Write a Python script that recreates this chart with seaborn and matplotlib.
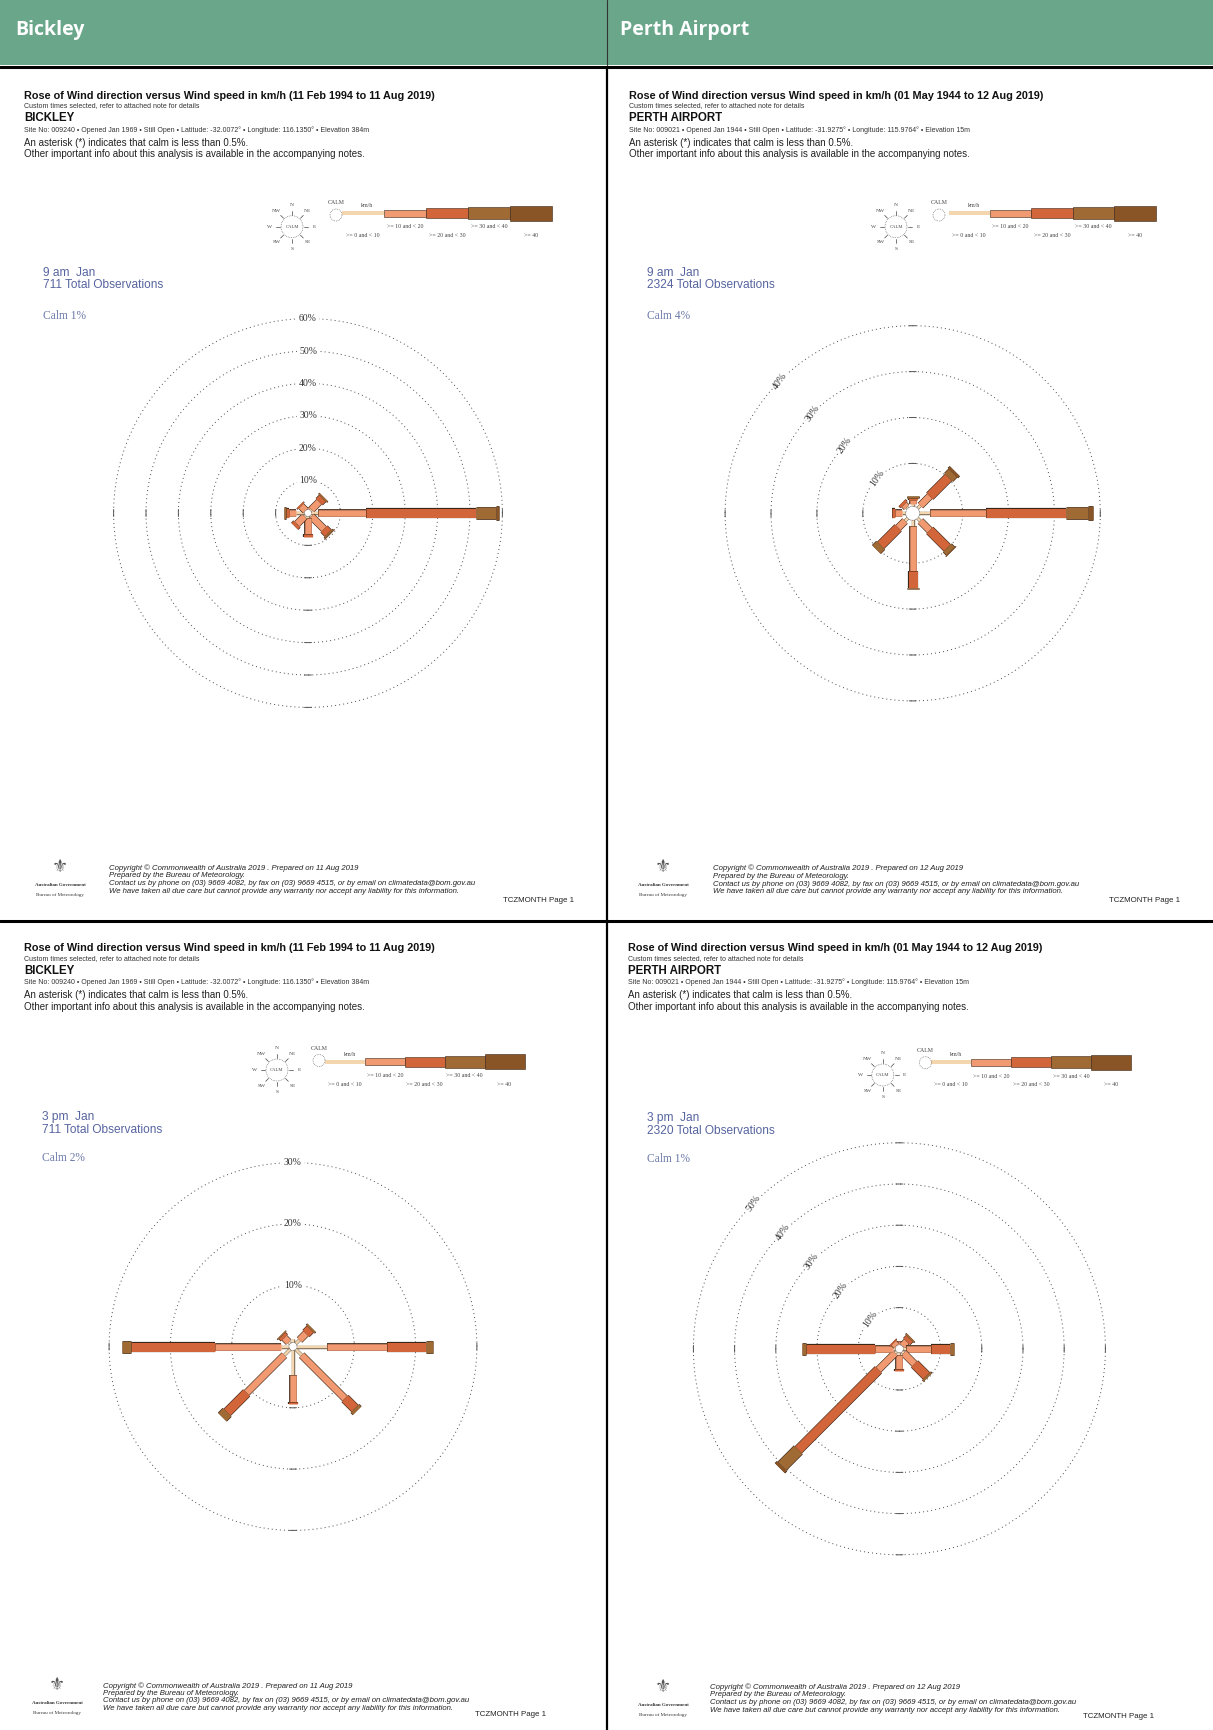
import numpy as np
import matplotlib
matplotlib.use("Agg")
import matplotlib.pyplot as plt
import seaborn as sns
from matplotlib.patches import Rectangle, Circle

sns.set_theme(style="white")
plt.rcParams['font.family'] = ['Liberation Sans', 'DejaVu Sans']

# ------------------------------------------------------------------ data
stations = ["Bickley", "Perth Airport"]
station_caps = ["BICKLEY", "PERTH AIRPORT"]
periods = ["(11 Feb 1994 to 11 Aug 2019)", "(01 May 1944 to 12 Aug 2019)"]
site_lines = [
    "Site No: 009240 \u2022 Opened Jan 1969 \u2022 Still Open \u2022 Latitude: -32.0072\u00b0 \u2022 Longitude: 116.1350\u00b0 \u2022 Elevation 384m",
    "Site No: 009021 \u2022 Opened Jan 1944 \u2022 Still Open \u2022 Latitude: -31.9275\u00b0 \u2022 Longitude: 115.9764\u00b0 \u2022 Elevation 15m",
]
prepared_dates = ["11 Aug 2019", "12 Aug 2019"]
directions = ["N", "NE", "E", "SE", "S", "SW", "W", "NW"]
speed_bins = [">= 0 and < 10", ">= 10 and < 20", ">= 20 and < 30", ">= 30 and < 40", ">= 40"]
times = ["9 am  Jan", "9 am  Jan", "3 pm  Jan", "3 pm  Jan"]
total_obs = [711, 2324, 711, 2320]
calm_pct = [1, 4, 2, 1]
ring_ticks = [[10, 20, 30, 40, 50, 60], [10, 20, 30, 40], [10, 20, 30], [10, 20, 30, 40, 50]]

# % of observations per direction (rows N..NW) and speed bin (columns)
bickley_9am = [
    [1.0, 1.0, 0.0, 0.0, 0.0],
    [1.5, 3.4, 1.5, 0.5, 0.0],
    [3.1, 14.9, 33.7, 6.2, 1.0],
    [1.5, 5.5, 1.8, 0.5, 0.2],
    [1.5, 5.0, 0.9, 0.0, 0.0],
    [1.5, 3.3, 1.0, 0.0, 0.0],
    [3.6, 2.3, 1.0, 0.6, 0.0],
    [1.0, 2.0, 0.5, 0.0, 0.0],
]
perth_9am = [
    [1.2, 0.8, 0.4, 0.4, 0.0],
    [1.5, 2.9, 5.8, 1.3, 0.6],
    [2.8, 12.3, 17.4, 4.9, 1.1],
    [1.5, 2.9, 5.4, 1.0, 0.2],
    [2.0, 9.8, 3.6, 0.3, 0.0],
    [1.5, 2.1, 5.4, 1.3, 0.0],
    [1.5, 1.5, 0.7, 0.0, 0.0],
    [1.0, 0.8, 0.6, 0.0, 0.0],
]
bickley_3pm = [
    [1.2, 0.0, 0.0, 0.0, 0.0],
    [1.5, 1.5, 1.0, 0.3, 0.0],
    [5.5, 9.8, 6.4, 1.1, 0.0],
    [2.0, 10.0, 2.3, 0.5, 0.0],
    [4.7, 4.4, 0.3, 0.0, 0.0],
    [2.0, 8.7, 4.5, 1.1, 0.0],
    [2.0, 10.8, 13.7, 1.4, 0.0],
    [1.0, 1.0, 0.5, 0.2, 0.0],
]
perth_3pm = [
    [1.0, 0.8, 0.0, 0.0, 0.0],
    [1.0, 1.5, 1.0, 0.4, 0.0],
    [1.5, 6.2, 4.7, 0.9, 0.0],
    [1.5, 3.7, 4.1, 0.5, 0.0],
    [1.5, 3.5, 0.3, 0.2, 0.0],
    [1.5, 5.7, 27.5, 5.6, 0.7],
    [1.5, 4.4, 16.8, 1.0, 0.0],
    [1.0, 1.0, 0.3, 0.0, 0.0],
]
rose_data = [bickley_9am, perth_9am, bickley_3pm, perth_3pm]
panel_station = [0, 1, 0, 1]

# ------------------------------------------------------------------ style / layout
W, H = 1213, 1730
bin_colors = ['#f3d6ae', '#f19a72', '#d2663a', '#a06a35', '#8a5526']
edge_dark = '#3a2516'
bar_px = [2.5, 6.5, 9.0, 11.5, 13.5]
leg_px = [4, 7, 10, 12, 15]
blue = '#56649f'
green = '#69a68a'
SANS = ['Liberation Sans', 'DejaVu Sans']
SERIF = ['Liberation Serif', 'DejaVu Serif']

layout = [
    dict(tx=24, ty=95.7, lx=43, ly=272.7, cy_calm=316, rose=(308, 513), k=3.24, off=0.0, calm_r=3.5, lab='N',
         comp=(292, 226.7), calm_leg=(336, 215), bars=(342, 552, 213),
         fx=109, fy=[868.3, 875.9, 883.5, 891.1], page=(574, 900.5), logo=(60, 870)),
    dict(tx=629, ty=95.7, lx=646.6, ly=272.7, cy_calm=316, rose=(912.7, 513.3), k=4.59, off=0.87, calm_r=7, lab='NW',
         comp=(896, 226.7), calm_leg=(939, 215), bars=(948.6, 1155.7, 213),
         fx=713, fy=[868.6, 876.3, 884.0, 891.8], page=(1180, 900.5), logo=(663, 870)),
    dict(tx=24, ty=948.3, lx=42.5, ly=1117.3, cy_calm=1158, rose=(293, 1346.5), k=6.13, off=0.0, calm_r=4, lab='N',
         comp=(277, 1070), calm_leg=(319, 1060.5), bars=(325, 524.5, 1061.7),
         fx=102.6, fy=[1686, 1693.5, 1701, 1708.5], page=(546, 1715), logo=(57, 1688)),
    dict(tx=628.5, ty=948.3, lx=646.6, ly=1118.3, cy_calm=1159, rose=(899.4, 1348.8), k=4.12, off=0.0, calm_r=4, lab='NW',
         comp=(882.8, 1075), calm_leg=(925.4, 1062.7), bars=(931.2, 1131.3, 1062.3),
         fx=709.7, fy=[1687.6, 1695, 1702.5, 1710], page=(1154, 1716.5), logo=(663, 1690)),
]

fig = plt.figure(figsize=(W / 100, H / 100), dpi=100, facecolor='white')
page = fig.add_axes([0, 0, 1, 1])
page.set_xlim(0, W)
page.set_ylim(H, 0)
page.axis('off')

# header
page.add_patch(Rectangle((0, 0), W, 65, fc=green, ec='none'))
page.plot([0, W], [66.5, 66.5], color='black', lw=2.2)
page.text(15, 30, stations[0], color='white', fontsize=14, fontweight='bold', family=['Open Sans', 'DejaVu Sans'], va='center')
page.text(620, 30, stations[1], color='white', fontsize=14, fontweight='bold', family=['Open Sans', 'DejaVu Sans'], va='center')
page.plot([607, 607], [0, 65], color='#333333', lw=0.8)
page.plot([607, 607], [67, H], color='black', lw=1.6)
page.plot([0, W], [921, 921], color='black', lw=2.2)


def draw_legend(L):
    cx, cy = L['comp']
    th = np.linspace(0, 2 * np.pi, 200)
    page.plot(cx + 11 * np.cos(th), cy + 11 * np.sin(th), color='#555', lw=0.5, ls=(0, (1, 1.5)))
    page.text(cx, cy, "CALM", fontsize=3.4, family=SERIF, ha='center', va='center', color='#444')
    for i, d in enumerate(directions):
        a = np.radians(90 - 45 * i)
        page.plot([cx + 12 * np.cos(a), cx + 16 * np.cos(a)], [cy - 12 * np.sin(a), cy - 16 * np.sin(a)],
                  color='#444', lw=0.5)
        page.text(cx + 22 * np.cos(a), cy - 22 * np.sin(a), d, fontsize=3.9, family=SERIF, ha='center',
                  va='center', color='#444')
    clx, cly = L['calm_leg']
    page.plot(clx + 6 * np.cos(th), cly + 6 * np.sin(th), color='#555', lw=0.5, ls=(0, (1, 1.5)))
    page.text(clx, cly - 12, "CALM", fontsize=4.2, family=SERIF, ha='center', va='center', color='#444')
    bx0, bx1, by = L['bars']
    edges = np.linspace(bx0, bx1, len(speed_bins) + 1)
    page.text(edges[0] + 25, by - 7.5, "km/h", fontsize=4.2, family=SERIF, ha='center', va='center', color='#444')
    for j, lab in enumerate(speed_bins):
        h = leg_px[j]
        page.add_patch(Rectangle((edges[j], by - h / 2), edges[j + 1] - edges[j], h, fc=bin_colors[j],
                                 ec=(edge_dark if j > 0 else 'none'), lw=0.4))
        yy = by + (13.7 if j % 2 == 1 else 22.7)
        page.text((edges[j] + edges[j + 1]) / 2, yy, lab, fontsize=4.2, family=SERIF, ha='center',
                  va='center', color='#444')


def draw_rose(ax, data, rings, k, off, calm_r, lab):
    ring_color = '#4a4a4a'
    th = np.linspace(0, 2 * np.pi, 721)
    for p in rings:
        r = off + p
        sns.lineplot(x=r * np.cos(th), y=r * np.sin(th), sort=False, estimator=None, ax=ax,
                     color=ring_color, linewidth=0.7, linestyle=(0, (1, 3.2)))
        marks = [0, 180, 270] if lab == 'N' else [0, 90, 180, 270]
        for mdeg in marks:
            dth = 3.5 / (r * k)
            tt = np.linspace(np.radians(mdeg) - dth, np.radians(mdeg) + dth, 10)
            ax.plot(r * np.cos(tt), r * np.sin(tt), color='#555', lw=0.7)
        if lab == 'N':
            ax.text(0, r, f"{p}%", fontsize=7.0, family=SERIF, ha='center', va='center', color='#333',
                    bbox=dict(fc='white', ec='none', pad=1.2), zorder=5)
        else:
            a = np.radians(135)
            ax.text(r * np.cos(a), r * np.sin(a), f"{p}%", fontsize=7.0, family=SERIF, ha='center',
                    va='center', color='#333', rotation=55,
                    bbox=dict(fc='white', ec='none', pad=0.8), zorder=5)
    for i, d in enumerate(directions):
        a = np.radians(90 - 45 * i)
        r0 = off
        for j, v in enumerate(data[i]):
            if v <= 0:
                continue
            r1 = r0 + v
            xs = [r0 * np.cos(a), r1 * np.cos(a)]
            ys = [r0 * np.sin(a), r1 * np.sin(a)]
            if j > 0:
                ax.plot(xs, ys, color=edge_dark, lw=(bar_px[j] + 1.2) * 0.72, solid_capstyle='butt', zorder=3)
            else:
                ax.plot(xs, ys, color='#6b5a4a', lw=(bar_px[j] + 0.9) * 0.72, solid_capstyle='butt', zorder=3)
            ax.plot(xs, ys, color=bin_colors[j], lw=bar_px[j] * 0.72, solid_capstyle='butt', zorder=3)
            r0 = r1
    ax.add_patch(Circle((0, 0), calm_r / k, fc='white', ec='#444', lw=0.5, ls=(0, (1, 1)), zorder=4))


for pi, L in enumerate(layout):
    s = panel_station[pi]
    x, y = L['tx'], L['ty']
    page.text(x, y, "Rose of Wind direction versus Wind speed in km/h " + periods[s], fontsize=7.8,
              fontweight='bold', family=SANS, va='center', color='#111')
    page.text(x, y + 10.3, "Custom times selected, refer to attached note for details", fontsize=5.0,
              family=SANS, va='center', color='#333')
    page.text(x, y + 22.6, station_caps[s], fontsize=8.3, fontweight='bold', family=SANS, va='center',
              color='#111')
    page.text(x, y + 34.3, site_lines[s], fontsize=5.0, family=SANS, va='center', color='#333')
    page.text(x, y + 47.0, "An asterisk (*) indicates that calm is less than 0.5%.", fontsize=7.0,
              family=SANS, va='center', color='#222')
    page.text(x, y + 58.3, "Other important info about this analysis is available in the accompanying notes.",
              fontsize=7.0, family=SANS, va='center', color='#222')
    draw_legend(L)
    page.text(L['lx'], L['ly'], times[pi], fontsize=8.6, family=SANS, va='center', color=blue)
    page.text(L['lx'], L['ly'] + 12.3, f"{total_obs[pi]} Total Observations", fontsize=8.6, family=SANS,
              va='center', color=blue)
    page.text(L['lx'], L['cy_calm'], f"Calm {calm_pct[pi]}%", fontsize=8.3, family=SERIF, va='center',
              color='#6a78a8')

    # footer
    foot = ["Copyright \u00a9 Commonwealth of Australia 2019 . Prepared on " + prepared_dates[s],
            "Prepared by the Bureau of Meteorology.",
            "Contact us by phone on (03) 9669 4082, by fax on (03) 9669 4515, or by email on climatedata@bom.gov.au",
            "We have taken all due care but cannot provide any warranty nor accept any liability for this information."]
    for ln, fy in zip(foot, L['fy']):
        page.text(L['fx'], fy, ln, fontsize=5.6, style='italic', family=SANS, va='center', color='#222')
    page.text(L['page'][0], L['page'][1], "TCZMONTH Page 1", fontsize=5.7, family=SANS, ha='right',
              va='center', color='#222')
    lgx, lgy = L['logo']
    page.text(lgx, lgy - 3, "\u269c", fontsize=13, family=['DejaVu Sans'], ha='center', va='center', color='#555')
    page.text(lgx, lgy + 15, "Australian Government", fontsize=3.6, fontweight='bold', family=SERIF,
              ha='center', va='center', color='#333')
    page.text(lgx, lgy + 25, "Bureau of Meteorology", fontsize=3.6, family=SERIF, ha='center', va='center',
              color='#333')

    # rose
    cx, cy = L['rose']
    half = 240
    ax = fig.add_axes([(cx - half) / W, 1 - (cy + half) / H, 2 * half / W, 2 * half / H])
    ax.set_facecolor('none')
    lim = half / L['k']
    ax.set_xlim(-lim, lim)
    ax.set_ylim(-lim, lim)
    ax.axis('off')
    draw_rose(ax, rose_data[pi], ring_ticks[pi], L['k'], L['off'], L['calm_r'], L['lab'])

fig.savefig("out.png", dpi=100, facecolor='white')
